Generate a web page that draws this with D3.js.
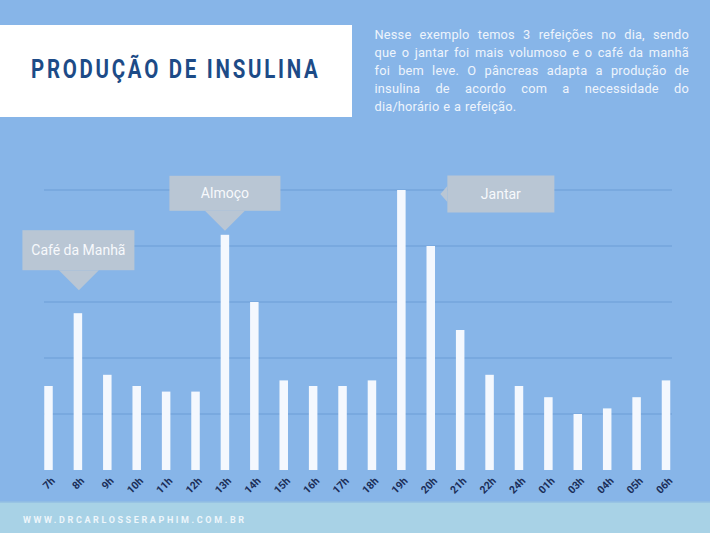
<!DOCTYPE html>
<html>
<head>
<meta charset="utf-8">
<script src="https://cdn.jsdelivr.net/npm/d3@7"></script>
<style>
  html, body { margin: 0; padding: 0; background: #87b5e8; }
  svg { display: block; }
</style>
</head>
<body>
<svg id="chart"></svg>
<script>
var width = 710
var height = 533

// data
var hours = ['7h', '8h', '9h', '10h', '11h', '12h', '13h', '14h', '15h', '16h', '17h',
    '18h', '19h', '20h', '21h', '22h', '24h', '01h', '03h', '04h', '05h', '06h']
var insulin = [1.5, 2.8, 1.7, 1.5, 1.4, 1.4, 4.2, 3.0, 1.6, 1.5, 1.5,
    1.6, 5.0, 4.0, 2.5, 1.7, 1.5, 1.3, 1.0, 1.1, 1.3, 1.6]
var yTicks = [1, 2, 3, 4, 5]
var meals = [
    {label: 'Café da Manhã', hour: '8h', side: 'down'},
    {label: 'Almoço', hour: '13h', side: 'down'},
    {label: 'Jantar', hour: '19h', side: 'left'}
]
var titleText = 'PRODUÇÃO DE INSULINA'
var introLines = [
    'Nesse exemplo temos 3 refeições no dia, sendo',
    'que o jantar foi mais volumoso e o café da manhã',
    'foi bem leve. O pâncreas adapta a produção de',
    'insulina de acordo com a necessidade do',
    'dia/horário e a refeição.'
]
var siteText = 'WWW.DRCARLOSSERAPHIM.COM.BR'

var plot = {left: 44, right: 672, top: 190, bottom: 470}
var barWidth = 8.5

var svg = d3.select('#chart')
    .attr('width', width)
    .attr('height', height)

svg.append('rect')
    .attr('width', width)
    .attr('height', height)
    .style('fill', '#87b5e8')

// footer band
svg.append('rect')
    .attr('x', 0).attr('y', 502)
    .attr('width', width).attr('height', height - 502)
    .style('fill', '#a8d2e6')
svg.append('line')
    .attr('x1', 0).attr('x2', width)
    .attr('y1', 502).attr('y2', 502)
    .style('stroke', '#93bfe3')
    .style('stroke-width', 1.5)
svg.append('text')
    .attr('x', 23).attr('y', 523)
    .attr('textLength', 221)
    .attr('lengthAdjust', 'spacing')
    .style('font-family', 'Roboto, sans-serif')
    .style('font-weight', 700)
    .style('font-size', '9px')
    .style('fill', '#eef6fb')
    .text(siteText)

// title box
svg.append('rect')
    .attr('x', 0).attr('y', 25)
    .attr('width', 352).attr('height', 92)
    .style('fill', '#ffffff')
// title squeezed horizontally with a transform so its box stays inside the white panel
var titleG = svg.append('g')
var title = titleG.append('text')
    .attr('x', 0).attr('y', 0)
    .style('font-family', 'Roboto, sans-serif')
    .style('font-weight', 700)
    .style('font-size', '26px')
    .style('letter-spacing', '3.5px')
    .style('fill', '#1d4b87')
    .text(titleText)
var titleLen = title.node().getComputedTextLength() - 3.5
titleG.attr('transform', 'translate(31,78) scale(' + (287 / titleLen) + ',1)')

// justified intro paragraph, one text per word
var introLeft = 374.5
var introRight = 689
var intro = svg.append('g')
    .style('font-family', 'Roboto, sans-serif')
    .style('font-size', '12.8px')
    .style('fill', '#eef4fc')
introLines.forEach(function (line, i) {
    var yPos = 38.7 + i * 18
    var words = line.split(' ')
    var nodes = words.map(function (w) {
        return intro.append('text').attr('y', yPos).style('letter-spacing', '0.2px').text(w)
    })
    var widths = nodes.map(function (n) { return n.node().getComputedTextLength() })
    var total = d3.sum(widths)
    var gap = i < introLines.length - 1 ? (introRight - introLeft - total) / (words.length - 1) : 3.8
    var xPos = introLeft
    nodes.forEach(function (n, j) {
        n.attr('x', xPos)
        xPos += widths[j] + gap
    })
})

// scales
var x = d3.scalePoint()
    .domain(hours)
    .range([48.5, 666])
var y = d3.scaleLinear()
    .domain([0, 5])
    .range([plot.bottom, plot.top])

// gridlines
svg.append('g')
    .selectAll('line')
    .data(yTicks)
    .enter()
    .append('line')
    .attr('x1', plot.left)
    .attr('x2', plot.right)
    .attr('y1', function (d) { return y(d) })
    .attr('y2', function (d) { return y(d) })
    .style('stroke', '#6d9ed6')
    .style('stroke-width', 1.2)

// bars
svg.append('g')
    .selectAll('rect')
    .data(insulin)
    .enter()
    .append('rect')
    .attr('x', function (d, i) { return x(hours[i]) - barWidth / 2 })
    .attr('y', function (d) { return y(d) })
    .attr('width', barWidth)
    .attr('height', function (d) { return y(0) - y(d) })
    .style('fill', '#f4f8fe')

// hour labels
svg.append('g')
    .selectAll('text')
    .data(hours)
    .enter()
    .append('text')
    .attr('transform', function (d) { return 'translate(' + (x(d) + 4.5) + ',' + (plot.bottom + 9) + ') rotate(-45)' })
    .attr('text-anchor', 'end')
    .attr('dy', '0.35em')
    .style('font-family', 'Roboto, sans-serif')
    .style('font-weight', 700)
    .style('font-size', '10.5px')
    .style('fill', '#1b2e58')
    .text(function (d) { return d })

// meal callouts
var calloutFill = '#b9c6d4'
meals.forEach(function (m) {
    var value = insulin[hours.indexOf(m.hour)]
    var cx = x(m.hour)
    var g = svg.append('g')
    var box, tip
    if (m.hour === '8h') {
        tip = [cx + 1, y(value) - 23]
        box = {x: tip[0] - 56.5, y: tip[1] - 60, w: 112, h: 40}
        g.append('path')
            .attr('d', 'M' + (tip[0] - 20) + ',' + (box.y + box.h) + 'L' + tip[0] + ',' + tip[1] + 'L' + (tip[0] + 20) + ',' + (box.y + box.h) + 'Z')
            .style('fill', calloutFill)
    } else if (m.side === 'down') {
        tip = [cx, y(value) - 4]
        box = {x: tip[0] - 55.5, y: tip[1] - 55, w: 111, h: 35}
        g.append('path')
            .attr('d', 'M' + (tip[0] - 20) + ',' + (box.y + box.h) + 'L' + tip[0] + ',' + tip[1] + 'L' + (tip[0] + 20) + ',' + (box.y + box.h) + 'Z')
            .style('fill', calloutFill)
    } else {
        tip = [cx + 39, y(value) + 4]
        box = {x: tip[0] + 7, y: tip[1] - 18.5, w: 107, h: 37}
        g.append('path')
            .attr('d', 'M' + box.x + ',' + (tip[1] - 8) + 'L' + tip[0] + ',' + tip[1] + 'L' + box.x + ',' + (tip[1] + 8) + 'Z')
            .style('fill', calloutFill)
    }
    g.append('rect')
        .attr('x', box.x).attr('y', box.y)
        .attr('width', box.w).attr('height', box.h)
        .style('fill', calloutFill)
    g.append('text')
        .attr('x', box.x + box.w / 2)
        .attr('y', box.y + box.h / 2)
        .attr('dy', '0.35em')
        .attr('text-anchor', 'middle')
        .style('font-family', 'Roboto, sans-serif')
        .style('font-size', '14px')
        .style('fill', '#f7f9fc')
        .text(m.label)
})
</script>
</body>
</html>
